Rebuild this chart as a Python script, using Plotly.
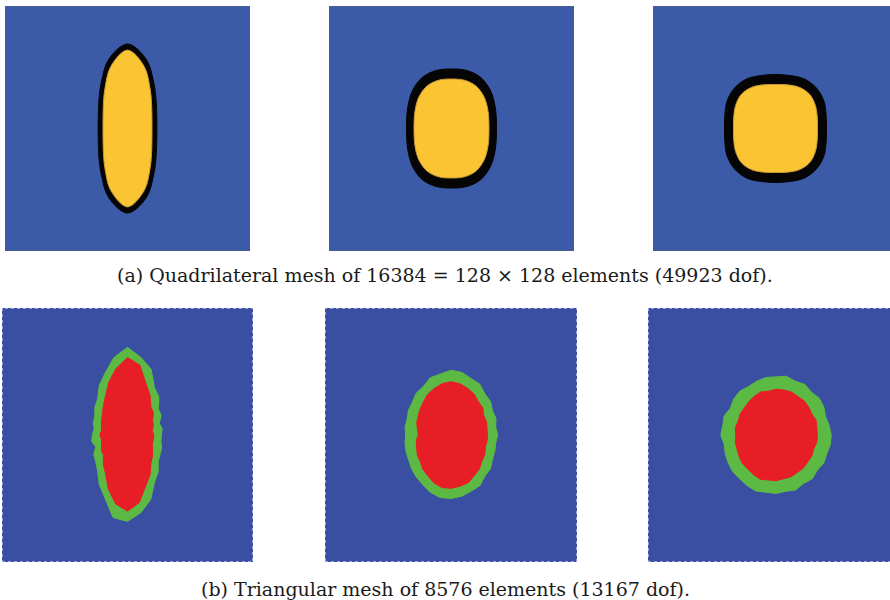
import numpy as np
import plotly.graph_objects as go

# ---------------- data ----------------
ANGLES_A = list(range(0, 360, 15))  # degrees, boundary sampling for the quadrilateral-mesh panels
ANGLES_B = list(range(0, 360, 10))  # degrees, boundary sampling for the triangular-mesh panels

# (a) quadrilateral mesh: yellow core and black interface band (radius in panel half-widths)
A1_CORE = [0.200, 0.207, 0.230, 0.278, 0.370, 0.525, 0.640, 0.525, 0.370, 0.278, 0.230, 0.207,
           0.200, 0.207, 0.230, 0.278, 0.370, 0.525, 0.640, 0.525, 0.370, 0.278, 0.230, 0.207]
A1_BAND = [0.240, 0.248, 0.275, 0.330, 0.430, 0.587, 0.690, 0.587, 0.430, 0.330, 0.275, 0.248,
           0.240, 0.248, 0.275, 0.330, 0.430, 0.587, 0.690, 0.587, 0.430, 0.330, 0.275, 0.248]
A2_CORE = [0.306, 0.315, 0.339, 0.372, 0.400, 0.408, 0.404, 0.408, 0.400, 0.372, 0.339, 0.315,
           0.306, 0.315, 0.339, 0.372, 0.400, 0.408, 0.404, 0.408, 0.400, 0.372, 0.339, 0.315]
A2_BAND = [0.367, 0.378, 0.406, 0.446, 0.480, 0.490, 0.486, 0.490, 0.480, 0.446, 0.406, 0.378,
           0.367, 0.378, 0.406, 0.446, 0.480, 0.490, 0.486, 0.490, 0.480, 0.446, 0.406, 0.378]
A3_CORE = [0.343, 0.353, 0.376, 0.394, 0.388, 0.369, 0.359, 0.369, 0.388, 0.394, 0.376, 0.353,
           0.343, 0.353, 0.376, 0.394, 0.388, 0.369, 0.359, 0.369, 0.388, 0.394, 0.376, 0.353]
A3_BAND = [0.416, 0.428, 0.455, 0.470, 0.468, 0.448, 0.441, 0.448, 0.468, 0.470, 0.455, 0.428,
           0.416, 0.428, 0.455, 0.470, 0.468, 0.448, 0.441, 0.448, 0.468, 0.470, 0.455, 0.428]

# (b) triangular mesh: red core and green interface band
B1_CORE = [0.21, 0.20, 0.22, 0.23, 0.27, 0.29, 0.36, 0.43, 0.56, 0.61, 0.53, 0.44,
           0.35, 0.30, 0.26, 0.24, 0.22, 0.21, 0.22, 0.21, 0.22, 0.24, 0.25, 0.30,
           0.35, 0.45, 0.55, 0.60, 0.54, 0.43, 0.36, 0.29, 0.26, 0.23, 0.21, 0.21]
B1_BAND = [0.27, 0.28, 0.27, 0.31, 0.32, 0.39, 0.43, 0.55, 0.62, 0.69, 0.62, 0.52,
           0.45, 0.37, 0.34, 0.30, 0.29, 0.27, 0.28, 0.29, 0.27, 0.31, 0.33, 0.37,
           0.45, 0.53, 0.66, 0.68, 0.62, 0.54, 0.43, 0.38, 0.32, 0.30, 0.29, 0.27]
B2_CORE = [0.29, 0.29, 0.30, 0.30, 0.33, 0.34, 0.37, 0.39, 0.41, 0.42, 0.41, 0.39,
           0.37, 0.34, 0.32, 0.30, 0.29, 0.27, 0.26, 0.28, 0.29, 0.31, 0.32, 0.35,
           0.37, 0.40, 0.42, 0.42, 0.41, 0.40, 0.37, 0.35, 0.32, 0.31, 0.29, 0.29]
B2_BAND = [0.37, 0.36, 0.38, 0.38, 0.41, 0.42, 0.46, 0.47, 0.50, 0.51, 0.49, 0.48,
           0.44, 0.43, 0.40, 0.39, 0.37, 0.37, 0.36, 0.37, 0.38, 0.39, 0.41, 0.43,
           0.45, 0.48, 0.50, 0.50, 0.49, 0.47, 0.46, 0.42, 0.41, 0.38, 0.37, 0.36]
B3_CORE = [0.33, 0.33, 0.34, 0.33, 0.34, 0.35, 0.35, 0.36, 0.36, 0.36, 0.35, 0.36,
           0.35, 0.34, 0.33, 0.33, 0.32, 0.33, 0.32, 0.33, 0.33, 0.34, 0.35, 0.35,
           0.36, 0.37, 0.36, 0.36, 0.35, 0.35, 0.34, 0.34, 0.33, 0.33, 0.32, 0.33]
B3_BAND = [0.44, 0.43, 0.42, 0.44, 0.45, 0.44, 0.46, 0.45, 0.47, 0.46, 0.46, 0.45,
           0.44, 0.45, 0.44, 0.42, 0.44, 0.43, 0.44, 0.42, 0.43, 0.44, 0.45, 0.45,
           0.46, 0.47, 0.46, 0.46, 0.45, 0.46, 0.44, 0.45, 0.43, 0.44, 0.43, 0.44]

# region centres (panel half-width units)
CENTERS = [(0.0, 0.0), (0.0, 0.0), (0.0, 0.0), (0.0, 0.0), (0.0, 0.0), (0.02, 0.0)]

CAPTION_A = "(a) Quadrilateral mesh of 16384 = 128 \u00d7 128 elements (49923 dof)."
CAPTION_B = "(b) Triangular mesh of 8576 elements (13167 dof)."

# ---------------- layout / style ----------------
W, H = 890, 600
# panel pixel boxes: (x0, x1, y0, y1)  (top-left origin)
BOXES = [(5, 250, 6, 251), (329, 574, 6, 251), (653, 898, 6, 251),
         (2, 253, 308, 562), (325, 577, 308, 562), (648, 899, 308, 562)]
BLUE_A = "#3b5aa8"
BLUE_B = "#3a4fa2"
YELLOW = "#fbc432"
BLACK = "#050505"
RED = "#e81e26"
GREEN = "#5cba44"

SETS = [(A1_BAND, A1_CORE), (A2_BAND, A2_CORE), (A3_BAND, A3_CORE),
        (B1_BAND, B1_CORE), (B2_BAND, B2_CORE), (B3_BAND, B3_CORE)]


def boundary(angles, radii, cx, cy):
    th = np.deg2rad(np.array(list(angles) + [angles[0]], dtype=float))
    r = np.array(list(radii) + [radii[0]], dtype=float)
    return cx + r * np.cos(th), cy + r * np.sin(th)


fig = go.Figure()
layout_axes = {}
shapes = []
for i, ((band, core), (cx, cy), box) in enumerate(zip(SETS, CENTERS, BOXES)):
    n = i + 1
    xs = "" if n == 1 else str(n)
    x0, x1, y0, y1 = box
    full_w = x1 - x0
    vis_x1 = min(x1, W)
    dom_x = [x0 / W, vis_x1 / W]
    dom_y = [1 - y1 / H, 1 - y0 / H]
    xr = [-1, -1 + 2 * (vis_x1 - x0) / full_w]
    common = dict(showgrid=False, zeroline=False, showticklabels=False, ticks="",
                  showline=False, fixedrange=True)
    layout_axes["xaxis" + xs] = dict(domain=dom_x, range=xr, anchor="y" + xs, **common)
    layout_axes["yaxis" + xs] = dict(domain=dom_y, range=[-1, 1], anchor="x" + xs, **common)

    top = i < 3
    angles = ANGLES_A if top else ANGLES_B
    bg = BLUE_A if top else BLUE_B
    shapes.append(dict(type="rect", xref="x" + xs + " domain", yref="y" + xs + " domain",
                       x0=0, x1=1, y0=0, y1=1, fillcolor=bg, line=dict(width=0), layer="below"))
    if top:
        shapes.append(dict(type="rect", xref="x" + xs, yref="y" + xs, x0=-1, x1=1, y0=-1, y1=1,
                           line=dict(color="#55606e", width=1.2), layer="above"))
    else:
        shapes.append(dict(type="rect", xref="x" + xs, yref="y" + xs, x0=-1, x1=1, y0=-1, y1=1,
                           line=dict(color="#9aa0e0", width=2, dash="dot"), layer="above"))

    bx, by = boundary(angles, band, cx, cy)
    kx, ky = boundary(angles, core, cx, cy)
    shape = "spline" if top else "linear"
    fig.add_trace(go.Scatter(x=bx, y=by, xaxis="x" + xs, yaxis="y" + xs, mode="lines",
                             fill="toself", fillcolor=BLACK if top else GREEN,
                             line=dict(color=BLACK if top else GREEN, width=1, shape=shape),
                             hoverinfo="skip", showlegend=False))
    fig.add_trace(go.Scatter(x=kx, y=ky, xaxis="x" + xs, yaxis="y" + xs, mode="lines",
                             fill="toself", fillcolor=YELLOW if top else RED,
                             line=dict(color="#c99a3a" if top else RED, width=1, shape=shape),
                             hoverinfo="skip", showlegend=False))

fig.update_layout(
    width=W, height=H, autosize=False,
    margin=dict(l=0, r=0, t=0, b=0),
    paper_bgcolor="white", plot_bgcolor="rgba(0,0,0,0)",
    shapes=shapes,
    annotations=[
        dict(text=CAPTION_A, x=0.5, y=1 - 275 / H, xref="paper", yref="paper",
             xanchor="center", yanchor="middle", showarrow=False,
             font=dict(family="DejaVu Serif", size=19, color="#1a1a1a")),
        dict(text=CAPTION_B, x=0.5, y=1 - 589 / H, xref="paper", yref="paper",
             xanchor="center", yanchor="middle", showarrow=False,
             font=dict(family="DejaVu Serif", size=19, color="#1a1a1a")),
    ],
    **layout_axes,
)

# the page's default body margin would shift the figure; remove it
fig.write_html("out.html", config={"displayModeBar": False},
               post_script="document.body.style.margin='0px';")
